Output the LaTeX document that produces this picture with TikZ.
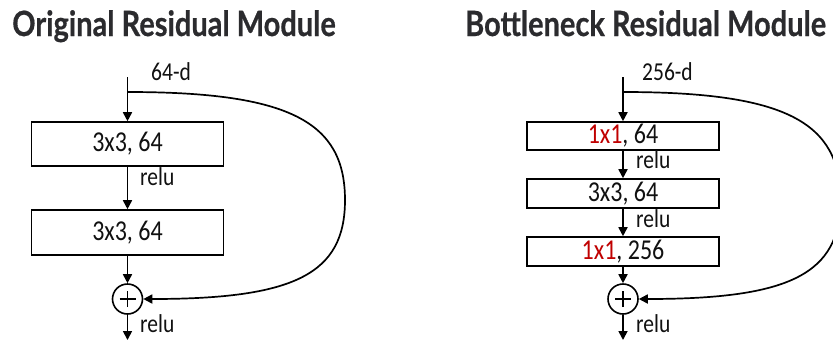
\documentclass[tikz,border=0pt]{standalone}
\usepackage{fontspec}
\setmainfont{Carlito}
\newfontfamily\titlefont{Lato}[BoldFeatures={FakeBold=0.6}]
\usetikzlibrary{arrows.meta}
\definecolor{titlegray}{HTML}{2B2B2E}
\definecolor{txt}{HTML}{111111}
\definecolor{hred}{HTML}{C00000}
\newcommand{\vs}[1]{\scalebox{1}[1.2]{#1}}
\tikzset{
  conn/.style={line width=1.7pt, -{Triangle[length=9pt,width=9pt]}},
  plain/.style={line width=1.7pt},
  layerbox/.style={draw, line width=1.6pt, minimum width=192pt, inner sep=0pt, text=txt, font=\fontsize{24}{24}\selectfont},
  lbl/.style={anchor=base west, inner sep=0pt, text=txt, font=\fontsize{21.5}{21.5}\selectfont},
  ttl/.style={anchor=base west, inner sep=0pt, text=titlegray, font=\titlefont\bfseries\fontsize{29}{29}\selectfont},
  addnode/.style={draw, circle, line width=1.6pt, minimum size=30pt, inner sep=0pt},
}
\begin{document}
\begin{tikzpicture}[x=1pt,y=-1pt]
\useasboundingbox (0,0) rectangle (833,341);
\clip (0,0) rectangle (833,341);
\fill[white] (0,0) rectangle (833,341);
% ---------- left panel ----------
\node[ttl] (t1) at (12,36) {\vs{Original Residual Module}};
\coordinate (ls) at (127.5,77);
\coordinate (lb) at (127.5,92);
\coordinate (lm) at (345,200);
\node[layerbox, minimum height=44pt] (l1) at (127.5,144) {\vs{3x3, 64}};
\node[layerbox, minimum height=45pt] (l2) at (127.5,232.5) {\vs{3x3, 64}};
\node[addnode] (la) at (127.5,299) {};
\coordinate (le) at (127.5,340);
\draw[plain] ([xshift=-8pt]la.center) -- ([xshift=8pt]la.center);
\draw[plain] ([yshift=-8pt]la.center) -- ([yshift=8pt]la.center);
\draw[conn] (ls) -- (l1.north);
\draw[conn] (l1.south) -- (l2.north);
\draw[conn] (l2.south) -- (la.north);
\draw[conn] (la.south) -- (le);
\draw[conn] (lb) .. controls (290,92) and (345,122) .. (lm)
            .. controls (345,274) and (294.5,299) .. (la.east);
\node[lbl] (ld) at (151,80) {\vs{64-d}};
\node[lbl] (lr1) at (140,185) {\vs{relu}};
\node[lbl] (lr2) at (140,332) {\vs{relu}};
% ---------- right panel ----------
\node[ttl] (t2) at (465,36) {\vs{Bottleneck Residual Module}};
\coordinate (rs) at (623,77);
\coordinate (rb) at (623,92);
\coordinate (rm) at (840.5,200);
\node[layerbox, minimum height=28pt] (r1) at (623,136) {\vs{\textcolor{hred}{1x1}, 64}};
\node[layerbox, minimum height=29pt] (r2) at (623,193.5) {\vs{3x3, 64}};
\node[layerbox, minimum height=29pt] (r3) at (623,251.5) {\vs{\textcolor{hred}{1x1}, 256}};
\node[addnode] (ra) at (623,299) {};
\coordinate (re) at (623,340);
\draw[plain] ([xshift=-8pt]ra.center) -- ([xshift=8pt]ra.center);
\draw[plain] ([yshift=-8pt]ra.center) -- ([yshift=8pt]ra.center);
\draw[conn] (rs) -- (r1.north);
\draw[conn] (r1.south) -- (r2.north);
\draw[conn] (r2.south) -- (r3.north);
\draw[conn] (r3.south) -- (ra.north);
\draw[conn] (ra.south) -- (re);
\draw[conn] (rb) .. controls (785.5,92) and (840.5,122) .. (rm)
            .. controls (840.5,274) and (790,299) .. (ra.east);
\node[lbl] (rd) at (642,80) {\vs{256-d}};
\node[lbl] (rr1) at (636,168) {\vs{relu}};
\node[lbl] (rr2) at (636,227) {\vs{relu}};
\node[lbl] (rr3) at (636,332) {\vs{relu}};
\end{tikzpicture}
\end{document}
